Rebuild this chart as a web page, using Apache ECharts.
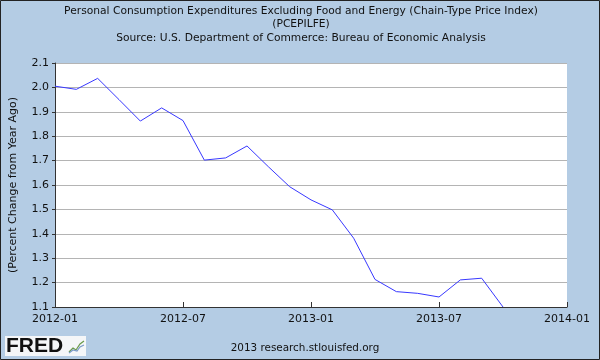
<!DOCTYPE html>
<html>
<head>
<meta charset="utf-8">
<script src="https://cdn.jsdelivr.net/npm/echarts@6/dist/echarts.min.js"></script>
<style>
html,body{margin:0;padding:0;background:#b4cce4;}
#c{width:600px;height:360px;}
</style>
</head>
<body>
<div id="c"></div>
<script>
var categories = ['2012-01','2012-02','2012-03','2012-04','2012-05','2012-06','2012-07','2012-08','2012-09','2012-10','2012-11','2012-12',
  '2013-01','2013-02','2013-03','2013-04','2013-05','2013-06','2013-07','2013-08','2013-09','2013-10','2013-11','2013-12','2014-01'];
var values = [2.005, 1.992, 2.037, 1.950, 1.862, 1.916, 1.864, 1.702, 1.711, 1.760, 1.675, 1.593,
  1.539, 1.498, 1.382, 1.213, 1.163, 1.156, 1.141, 1.211, 1.218, 1.100];
var yTicks = [1.1, 2.1, 0.1];
var titleLines = ['Personal Consumption Expenditures Excluding Food and Energy (Chain-Type Price Index)', '(PCEPILFE)', 'Source: U.S. Department of Commerce: Bureau of Economic Analysis'];

var FONT = 'DejaVu Sans';
var chart = echarts.init(document.getElementById('c'), null, {renderer: 'canvas'});
var titleGraphics = titleLines.map(function(t, i){
  return {type: 'text', x: 301, y: 11 + i * 13.5, style: {text: t, font: '10.7px "DejaVu Sans"', fill: '#111', textAlign: 'center', textVerticalAlign: 'middle'}};
});
chart.setOption({
  animation: false,
  backgroundColor: '#b4cce4',
  grid: {left: 52, right: 33, top: 63, bottom: 53, containLabel: false,
    show: true, backgroundColor: '#ffffff', borderWidth: 0},
  xAxis: {
    type: 'category', data: categories, boundaryGap: false,
    axisLine: {lineStyle: {color: '#333', width: 1}},
    axisTick: {inside: true, length: 5, interval: 5, lineStyle: {color: '#333'}},
    axisLabel: {interval: 5, fontFamily: FONT, fontSize: 11, color: '#111', margin: 7},
    splitLine: {show: false}
  },
  yAxis: {
    type: 'value', min: yTicks[0], max: yTicks[1], interval: yTicks[2],
    name: '(Percent Change from Year Ago)', nameLocation: 'middle', nameGap: 36,
    nameTextStyle: {fontFamily: FONT, fontSize: 11, color: '#111'},
    axisLine: {show: true, lineStyle: {color: '#333', width: 1}},
    axisTick: {show: true, length: 3, lineStyle: {color: '#333'}},
    axisLabel: {fontFamily: FONT, fontSize: 11, color: '#111', margin: 6,
      formatter: function(v){ return v.toFixed(1); }},
    splitLine: {lineStyle: {color: '#b4b4b4', width: 1}}
  },
  series: [{
    type: 'line', data: values, showSymbol: false, symbol: 'none',
    lineStyle: {color: '#3838ff', width: 1}
  }],
  graphic: titleGraphics.concat([
    {type: 'rect', shape: {x: 0.5, y: 0.5, width: 599, height: 359}, style: {fill: null, stroke: '#222', lineWidth: 1}, z: 100},
    {type: 'rect', shape: {x: 5, y: 336, width: 81, height: 20}, style: {fill: '#f4f6f8'}},
    {type: 'text', x: 6, y: 346, style: {text: 'FRED', font: 'bold 21px "Liberation Sans"', fill: '#111', textVerticalAlign: 'middle'}},
    {type: 'polyline', shape: {points: [[69,352],[73,348],[76,350],[80,344],[84,341]]}, style: {stroke: '#6a9a4a', lineWidth: 1.2, fill: null}},
    {type: 'polyline', shape: {points: [[69,353],[73,350],[77,351],[80,347],[84,345]]}, style: {stroke: '#7a9ac8', lineWidth: 1.2, fill: null}},
    {type: 'text', x: 305, y: 348, style: {text: '2013 research.stlouisfed.org', font: '10.4px "DejaVu Sans"', fill: '#111', textAlign: 'center', textVerticalAlign: 'middle'}}
  ])
});
</script>
</body>
</html>
